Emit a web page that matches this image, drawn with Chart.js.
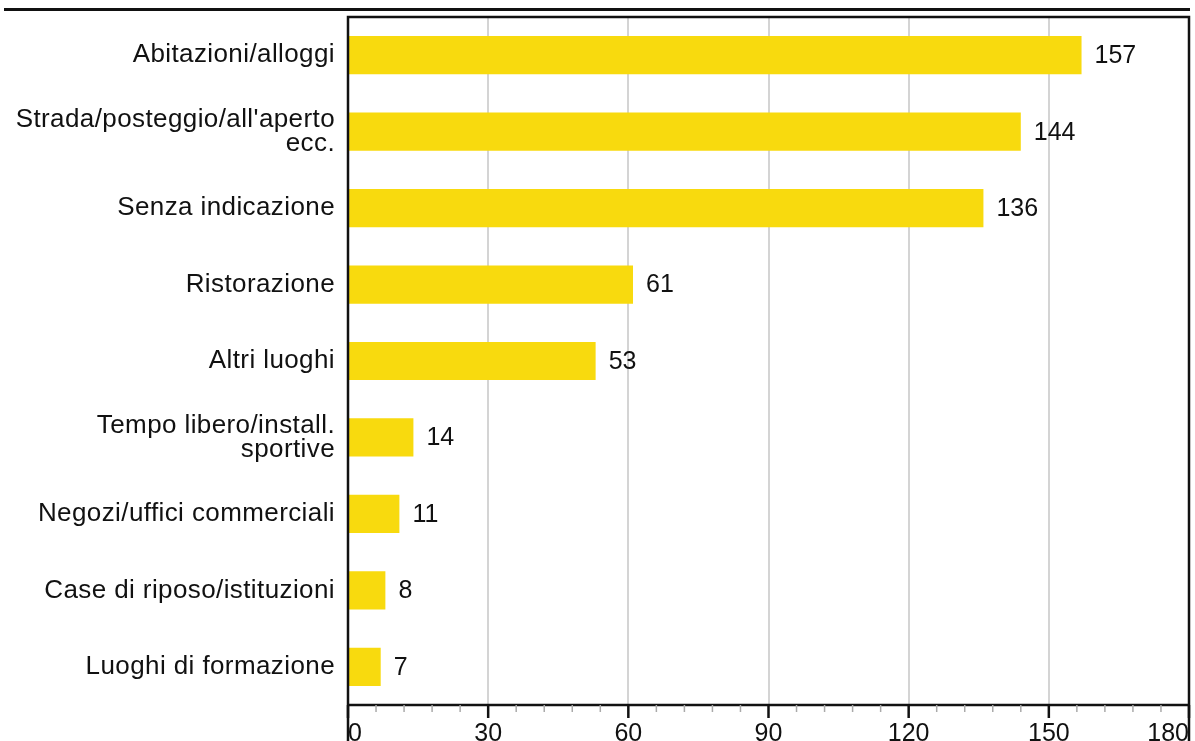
<!DOCTYPE html>
<html lang="it">
<head>
<meta charset="UTF-8">
<title>Luoghi</title>
<script src="https://cdn.jsdelivr.net/npm/chart.js"></script>
<style>
    html, body {
        margin: 0;
        padding: 0;
        background: #fff;
        overflow: hidden;
    }
    #wrap {
        width: 1195px;
        height: 760px;
    }
</style>
</head>
<body>
<div id="wrap"><canvas id="barChart"></canvas></div>
<script>
const categories = [
    'Abitazioni/alloggi',
    ["Strada/posteggio/all'aperto", 'ecc.'],
    'Senza indicazione',
    'Ristorazione',
    'Altri luoghi',
    ['Tempo libero/install.', 'sportive'],
    'Negozi/uffici commerciali',
    'Case di riposo/istituzioni',
    'Luoghi di formazione'
];
const values = [157, 144, 136, 61, 53, 14, 11, 8, 7];
const xTicks = [0, 30, 60, 90, 120, 150, 180];

const FONT = "'Liberation Sans', Arial, sans-serif";

// frame, top rule, axis ticks and value labels
const extras = {
    id: 'extras',
    beforeDraw(chart) {
        // the category labels in the original are set a touch wider
        chart.ctx.letterSpacing = '0.4px';
    },
    beforeDatasetsDraw(chart) {
        chart.ctx.letterSpacing = '0px';
    },
    afterDraw(chart) {
        const ctx = chart.ctx;
        const a = chart.chartArea;
        const x = chart.scales.x;
        ctx.save();

        // top double rule
        ctx.strokeStyle = '#111';
        ctx.lineWidth = 3;
        ctx.beginPath();
        ctx.moveTo(4, 9.5);
        ctx.lineTo(1190, 9.5);
        ctx.stroke();

        // frame
        ctx.lineWidth = 2.5;
        ctx.beginPath();
        ctx.moveTo(a.left, chart.height);
        ctx.lineTo(a.left, a.top);
        ctx.lineTo(a.right, a.top);
        ctx.lineTo(a.right, chart.height);
        ctx.moveTo(a.left, a.bottom);
        ctx.lineTo(a.right, a.bottom);
        ctx.stroke();

        // ticks, minor every 6
        for (let v = 0; v <= 180; v += 6) {
            const px = x.getPixelForValue(v);
            const major = xTicks.includes(v);
            ctx.beginPath();
            ctx.strokeStyle = major ? '#111' : '#aaa';
            ctx.lineWidth = major ? 2.5 : 1.5;
            ctx.moveTo(px, a.bottom);
            ctx.lineTo(px, a.bottom + (major ? 13 : 7));
            ctx.stroke();
        }

        // value labels
        ctx.fillStyle = '#111';
        ctx.font = '25px ' + FONT;
        ctx.textAlign = 'left';
        ctx.textBaseline = 'middle';
        chart.getDatasetMeta(0).data.forEach((bar, i) => {
            ctx.fillText(values[i], bar.x + 13, bar.y + 1);
        });
        ctx.restore();
    }
};

new Chart(document.getElementById('barChart'), {
    type: 'bar',
    data: {
        labels: categories,
        datasets: [{
            data: values,
            backgroundColor: '#f8da0e',
            borderWidth: 0,
            categoryPercentage: 0.5,
            barPercentage: 1
        }]
    },
    options: {
        indexAxis: 'y',
        responsive: true,
        maintainAspectRatio: false,
        animation: false,
        layout: { padding: { top: 17, right: 6, left: 0, bottom: 0 } },
        plugins: {
            legend: { display: false },
            tooltip: { enabled: false }
        },
        scales: {
            x: {
                min: 0,
                max: 180,
                afterBuildTicks: s => { s.ticks = xTicks.map(v => ({ value: v })); },
                border: { display: false },
                grid: { color: '#d4d4d4', lineWidth: 2, drawTicks: false },
                ticks: {
                    z: 1,
                    align: 'inner',
                    padding: 14,
                    color: '#111',
                    font: { family: FONT, size: 25 },
                    maxRotation: 0
                },
                afterFit: s => {
                    s.height = 55;
                    s.paddingLeft = 0;
                    s.paddingRight = 0;
                }
            },
            y: {
                border: { display: false },
                grid: { display: false, drawTicks: false },
                ticks: {
                    padding: 13,
                    color: '#111',
                    font: { family: FONT, size: 26, lineHeight: '24px' }
                },
                afterFit: s => {
                    s.width = 348;
                    s.paddingTop = 0;
                    s.paddingBottom = 0;
                }
            }
        }
    },
    plugins: [extras]
});
</script>
</body>
</html>
